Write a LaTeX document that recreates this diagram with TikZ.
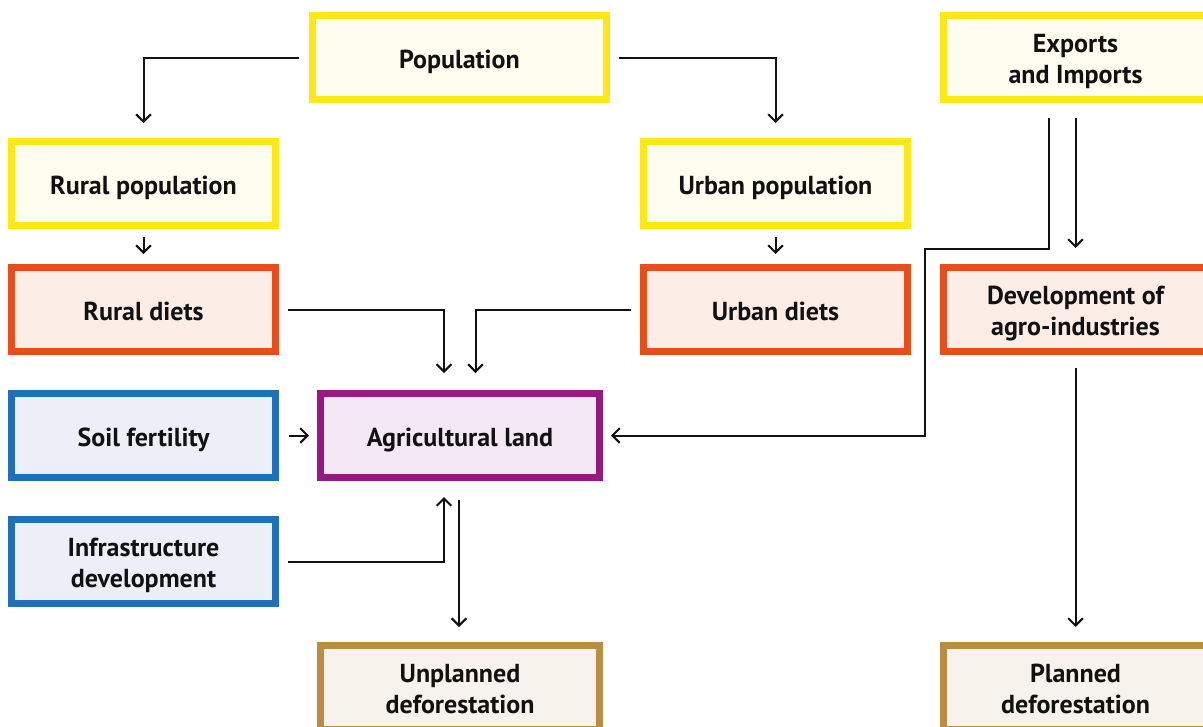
\documentclass[tikz,border=0pt]{standalone}
\usepackage{fontspec}
\setmainfont{PT Sans}
\usetikzlibrary{arrows.meta,calc}

\definecolor{yline}{HTML}{FFE815}
\definecolor{yfill}{HTML}{FEFDF0}
\definecolor{oline}{HTML}{E84E1B}
\definecolor{ofill}{HTML}{FCEDE6}
\definecolor{bline}{HTML}{1F70B8}
\definecolor{bfill}{HTML}{ECEFF8}
\definecolor{pline}{HTML}{951B81}
\definecolor{pfill}{HTML}{F3E8F4}
\definecolor{nline}{HTML}{BB8D43}
\definecolor{nfill}{HTML}{F7F2EC}
\definecolor{ink}{HTML}{111111}

\tikzset{
  box/.style={rectangle, line width=5.25pt, outer sep=2.625pt, inner sep=0pt,
    minimum width=198pt, minimum height=63pt, align=center, text=ink,
    text height=16.3pt, text depth=0pt,
    font=\bfseries\fontsize{19.5}{23}\selectfont},
  twoline/.style={text height=38.8pt, text depth=0pt},
  ybox/.style={box, draw=yline, fill=yfill},
  obox/.style={box, draw=oline, fill=ofill},
  bbox/.style={box, draw=bline, fill=bfill},
  pbox/.style={box, draw=pline, fill=pfill},
  nbox/.style={box, draw=nline, fill=nfill},
  arr/.style={draw=ink, line width=1.5pt, -{Straight Barb[length=5.5pt,width=11pt,line width=1.5pt]}},
}

\begin{document}
\begin{tikzpicture}[x=0.75pt,y=-0.75pt]
  \useasboundingbox (0,0) rectangle (1203,726);
  \fill[white] (0,0) rectangle (1203,726);
  \clip (0,0) rectangle (1203,726);

  % boxes (centres in pixel units)
  \node[ybox, minimum width=220.5pt] (pop) at (459.5,57.5) {Population};
  \node[ybox, twoline] (exp) at (1075.5,57.5) {Exports\\and Imports};
  \node[ybox] (rurpop) at (143.5,183.5) {Rural population};
  \node[ybox] (urbpop) at (775.5,183.5) {Urban population};
  \node[obox] (rurdiet) at (143.5,309.5) {Rural diets};
  \node[obox] (urbdiet) at (775.5,309.5) {Urban diets};
  \node[obox, twoline] (agro) at (1075.5,309.5) {Development of\\agro-industries};
  \node[bbox] (soil) at (143.5,435.5) {Soil fertility};
  \node[pbox, minimum width=209.25pt] (agland) at (460,435.5) {Agricultural land};
  \node[bbox, twoline] (infra) at (143.5,561.5) {Infrastructure\\development};
  \node[nbox, twoline, minimum width=209.25pt] (unpl) at (460,687.5) {Unplanned\\deforestation};
  \node[nbox, twoline] (plan) at (1075.5,687.5) {Planned\\deforestation};

  \coordinate (bend) at (925,249);

  % connectors
  \draw[arr, shorten <=7.5pt, shorten >=11.25pt] (pop.west) -| (rurpop.north);
  \draw[arr, shorten <=6.75pt, shorten >=11.25pt] (pop.east) -| (urbpop.north);
  \draw[arr, shorten <=6pt, shorten >=7.5pt] (rurpop.south) -- (rurdiet.north);
  \draw[arr, shorten <=6pt, shorten >=7.5pt] (urbpop.south) -- (urbdiet.north);
  \draw[arr, shorten <=6.75pt, shorten >=12.75pt] (rurdiet.east) -| ($(agland.north)+(-16,0)$);
  \draw[arr, shorten <=6.75pt, shorten >=12.75pt] (urbdiet.west) -| ($(agland.north)+(15.5,0)$);
  \draw[arr, shorten <=7.5pt, shorten >=6pt] (soil.east) -- (agland.west);
  \draw[arr, shorten <=11.25pt, shorten >=6pt] ($(exp.south)+(-26.5,0)$) |- (bend) |- (agland.east);
  \draw[arr, shorten <=11.25pt, shorten >=12pt] (exp.south) -- (agro.north);
  \draw[arr, shorten <=6.75pt, shorten >=12pt] (infra.east) -| ($(agland.south)+(-16,0)$);
  \draw[arr, shorten <=14.25pt, shorten >=11.25pt] ($(agland.south)+(-1,0)$) -- ($(unpl.north)+(-1,0)$);
  \draw[arr, shorten <=9.75pt, shorten >=11.25pt] (agro.south) -- (plan.north);
\end{tikzpicture}
\end{document}
